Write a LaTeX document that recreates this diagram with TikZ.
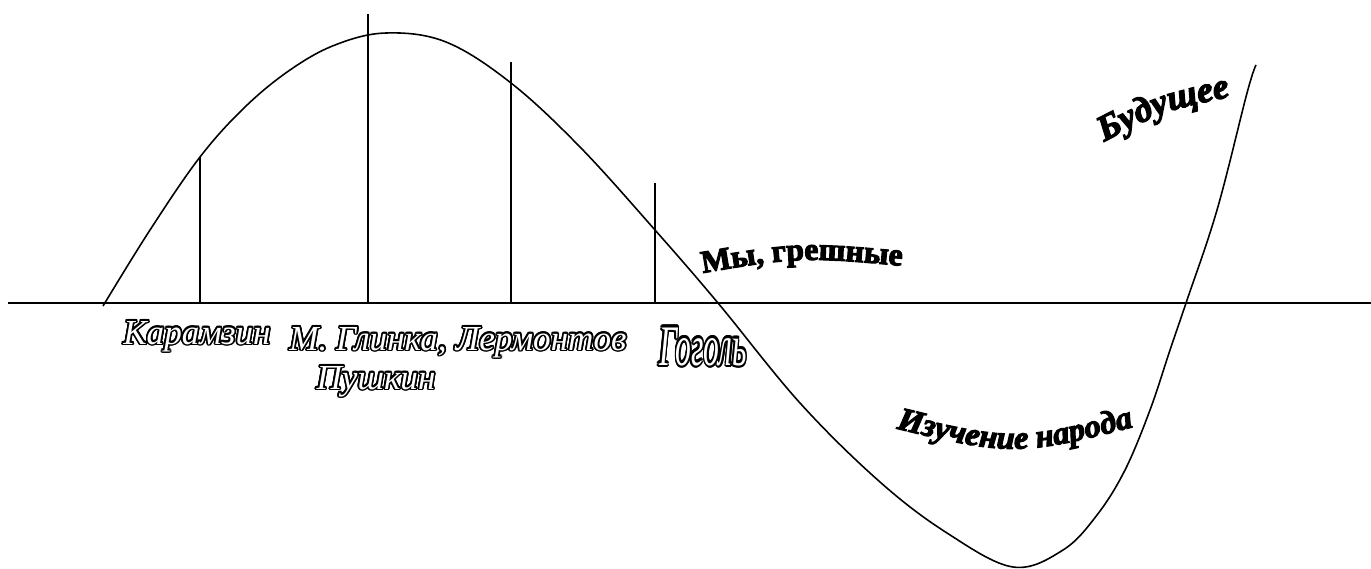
\documentclass[tikz,border=0pt]{standalone}
\usepackage{fontspec}
\setmainfont{Liberation Serif}
\newfontfamily\heavyfont{Liberation Serif}[BoldFeatures={FakeBold=3.5},BoldItalicFeatures={FakeBold=3.5}]
\usepackage{contour}
\contourlength{0.95pt}
\contournumber{16}
\usetikzlibrary{decorations.text}
\newcommand{\outl}[1]{\contour{black}{#1}}

\begin{document}
\begin{tikzpicture}[x=0.02cm,y=-0.02cm,
    lbl/.style={anchor=base,text=white,font=\itshape\fontsize{20}{22}\selectfont},
    curved/.style={decorate,decoration={text along path,text align=center,text={#1}}}]
    \useasboundingbox (0,0) rectangle (1371,568);
    \coordinate (o1) at (8,303);
    \coordinate (o2) at (1371,303);
    \coordinate (k1) at (200,303);
    \coordinate (k2) at (200,157);
    \coordinate (p1) at (368,303);
    \coordinate (p2) at (368,14);
    \coordinate (l1) at (511,303);
    \coordinate (l2) at (511,62);
    \coordinate (g1) at (655,303);
    \coordinate (g2) at (655,183);
    \draw[line width=1.2pt] (o1) -- (o2);
    \draw[line width=0.7pt] (k1) -- (k2);
    \draw[line width=0.7pt] (p1) -- (p2);
    \draw[line width=0.7pt] (l1) -- (l2);
    \draw[line width=0.7pt] (g1) -- (g2);
    \draw[line width=0.9pt] plot[smooth,tension=0.6] coordinates {(103,306) (150,230) (200,157) (245,107) (290,70) (335,45) (386,33) (446,42) (511,83) (580,147) (655,230) (718,303) (800,403) (880,482) (947,533) (1013,567) (1063,550) (1097,515) (1125,470) (1150,410) (1170,350) (1186,303) (1217,210) (1247,93) (1256,65)};
    \node[lbl] (karamzin) at (197,344) {\outl{Карамзин}};
    \node[lbl] (glinka) at (368,350) {\outl{М. Глинка,}};
    \node[lbl] (pushkin) at (376,389) {\outl{Пушкин}};
    \node[lbl] (lermontov) at (541,350) {\outl{Лермонтов}};
    \node[lbl,xscale=0.9,yscale=1.63] (gogol) at (703,365) {\outl{Гоголь}};
    \path[curved={|\heavyfont\bfseries\fontsize{18}{20}\selectfont|Мы, грешные}] (680,277) .. controls (800,256) .. (925,268);
    \path[curved={|\heavyfont\bfseries\itshape\fontsize{18.5}{20}\selectfont|Изучение народа}] (870,422) .. controls (1015,458) .. (1160,420);
    \path[curved={|\heavyfont\bfseries\itshape\fontsize{20.5}{22}\selectfont|Будущее}] (1092,148) .. controls (1165,110) .. (1244,94);
\end{tikzpicture}
\end{document}
